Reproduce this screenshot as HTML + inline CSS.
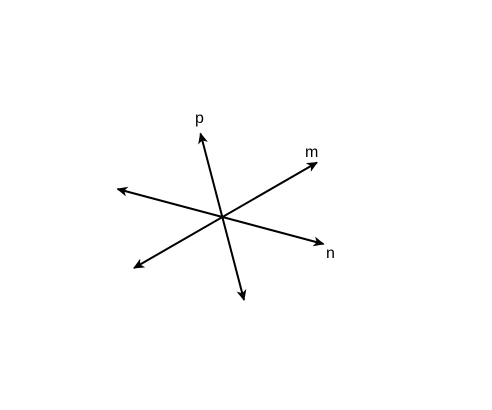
<!DOCTYPE html>
<html><head><meta charset="utf-8"><style>
html,body{margin:0;padding:0;background:#fff;width:492px;height:410px;overflow:hidden}
svg text{font-family:"Liberation Sans",sans-serif;font-size:16px;fill:#000}
</style></head><body>
<svg width="492" height="410" viewBox="0 0 492 410">
<defs>
<marker id="ah" markerWidth="12" markerHeight="10" refX="10" refY="5" orient="auto-start-reverse" markerUnits="userSpaceOnUse">
<path d="M0,0 L11,5 L0,10 L3,5 Z" fill="#000"/>
</marker>
</defs>
<line x1="200.5" y1="133.5" x2="244" y2="300" stroke="#000" stroke-width="2" marker-start="url(#ah)" marker-end="url(#ah)"/>
<line x1="134" y1="268" x2="317" y2="162.5" stroke="#000" stroke-width="2" marker-start="url(#ah)" marker-end="url(#ah)"/>
<line x1="117.5" y1="189" x2="323.5" y2="244" stroke="#000" stroke-width="2" marker-start="url(#ah)" marker-end="url(#ah)"/>
<text x="195" y="123">p</text>
<text x="305" y="157">m</text>
<text x="326" y="258">n</text>
</svg>
</body></html>
